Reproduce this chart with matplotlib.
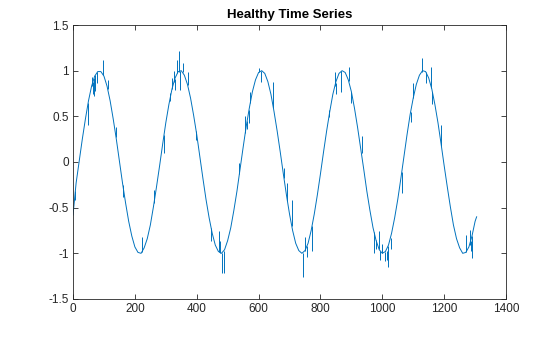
import numpy as np
import matplotlib.pyplot as plt
from matplotlib.ticker import FuncFormatter

plt.rcParams['font.family'] = ['Liberation Sans', 'DejaVu Sans']
plt.rcParams['axes.unicode_minus'] = False

# smooth signal, sampled every 10 steps
base_x = list(range(0, 1301, 10)) + [1305]
base_y = [
    -0.58, -0.23, 0.01, 0.25, 0.47, 0.67, 0.83, 0.94, 0.99, 0.99,
    0.94, 0.83, 0.67, 0.47, 0.25, 0.01, -0.23, -0.45, -0.65, -0.81,
    -0.93, -0.99, -1.00, -0.94, -0.84, -0.69, -0.49, -0.27, -0.04, 0.20,
    0.43, 0.63, 0.80, 0.92, 0.99, 1.00, 0.95, 0.85, 0.70, 0.51,
    0.30, 0.06, -0.18, -0.41, -0.61, -0.78, -0.91, -0.98, -1.00, -0.96,
    -0.86, -0.72, -0.53, -0.32, -0.08, 0.16, 0.39, 0.59, 0.77, 0.90,
    0.98, 1.00, 0.97, 0.88, 0.74, 0.55, 0.34, 0.11, -0.13, -0.36,
    -0.57, -0.75, -0.89, -0.97, -1.00, -0.97, -0.89, -0.75, -0.57, -0.36,
    -0.13, 0.11, 0.34, 0.55, 0.74, 0.88, 0.97, 1.00, 0.98, 0.90,
    0.77, 0.59, 0.38, 0.15, -0.08, -0.32, -0.53, -0.72, -0.86, -0.96,
    -1.00, -0.98, -0.91, -0.78, -0.61, -0.41, -0.18, 0.06, 0.30, 0.52,
    0.70, 0.85, 0.95, 1.00, 0.99, 0.92, 0.80, 0.63, 0.43, 0.20,
    -0.04, -0.27, -0.49, -0.69, -0.84, -0.94, -1.00, -0.99, -0.93, -0.81,
    -0.65, -0.60,
]

# short glitches: position, level of the signal there, tip of the glitch
glitch_x = [6, 49, 60, 64, 68, 72, 78, 98, 112, 139, 161,
            223, 262, 294, 312, 320, 326, 329, 336, 342, 347, 356,
            371, 398, 446, 471, 476, 481, 487, 538, 557, 563, 569, 573,
            601, 609, 648, 682, 693, 707, 742, 749, 757, 773,
            827, 846, 849, 868, 891, 900, 933, 973, 979, 989,
            992, 1000, 1008, 1014, 1019, 1027, 1063, 1092, 1100, 1128, 1142, 1159,
            1162, 1191, 1272, 1282, 1286, 1290]
glitch_base = [-0.32, 0.65, 0.83, 0.88, 0.92, 0.95, 0.98, 0.95, 0.80, 0.27, -0.25,
               -0.99, -0.45, 0.30, 0.67, 0.80, 0.88, 0.91, 0.97, 0.99, 1.00, 0.98,
               0.84, 0.34, -0.72, -0.99, -1.00, -1.00, -0.98, -0.13, 0.32, 0.45, 0.57, 0.65,
               0.99, 1.00, 0.59, -0.18, -0.43, -0.70, -1.00, -0.98, -0.92, -0.70,
               0.49, 0.83, 0.86, 1.00, 0.89, 0.77, 0.10, -0.77, -0.85, -0.95,
               -0.97, -1.00, -0.99, -0.97, -0.92, -0.83, -0.11, 0.55, 0.70, 0.99, 0.98, 0.81,
               0.77, 0.18, -0.99, -0.91, -0.87, -0.81]
glitch_tip = [-0.42, 0.40, 0.93, 0.74, 0.72, 0.78, 0.86, 1.12, 0.90, 0.38, -0.38,
              -0.82, -0.31, 0.10, 0.76, 0.92, 1.00, 0.79, 1.12, 1.21, 0.79, 1.08,
              0.98, 0.24, -0.87, -0.76, -0.86, -1.22, -1.21, -0.01, 0.50, 0.36, 0.43, 0.77,
              1.03, 0.88, 0.88, -0.07, -0.23, -0.42, -1.26, -0.82, -1.04, -0.97,
              0.57, 0.99, 0.75, 0.77, 1.04, 0.65, 0.28, -1.00, -0.95, -0.76,
              -1.07, -0.90, -1.08, -1.07, -1.15, -0.95, -0.34, 0.44, 0.86, 1.14, 0.86, 1.04,
              0.63, 0.40, -0.80, -0.74, -0.97, -1.05]

line_color = '#0072BD'

fig = plt.figure(figsize=(5.6, 3.37), dpi=100)
ax = fig.add_axes([0.1304, 0.1128, 0.7732, 0.813])
ax.plot(base_x, base_y, color=line_color, linewidth=0.7)
ax.vlines(glitch_x, glitch_base, glitch_tip, color=line_color, linewidth=0.7)

ax.set_xlim(0, 1400)
ax.set_ylim(-1.5, 1.5)
ax.set_xticks(range(0, 1401, 200))
ax.set_yticks([-1.5, -1, -0.5, 0, 0.5, 1, 1.5])
ax.yaxis.set_major_formatter(FuncFormatter(lambda v, p: f'{v:g}'))
ax.tick_params(direction='in', top=True, right=True, length=3.5, width=0.6,
               labelsize=8.5, colors='#262626', pad=3)
for s in ax.spines.values():
    s.set_linewidth(0.6)
    s.set_color('#262626')
ax.set_title('Healthy Time Series', fontsize=9.5, fontweight='bold', color='#000000', pad=5)

fig.savefig('out.png', dpi=100)
